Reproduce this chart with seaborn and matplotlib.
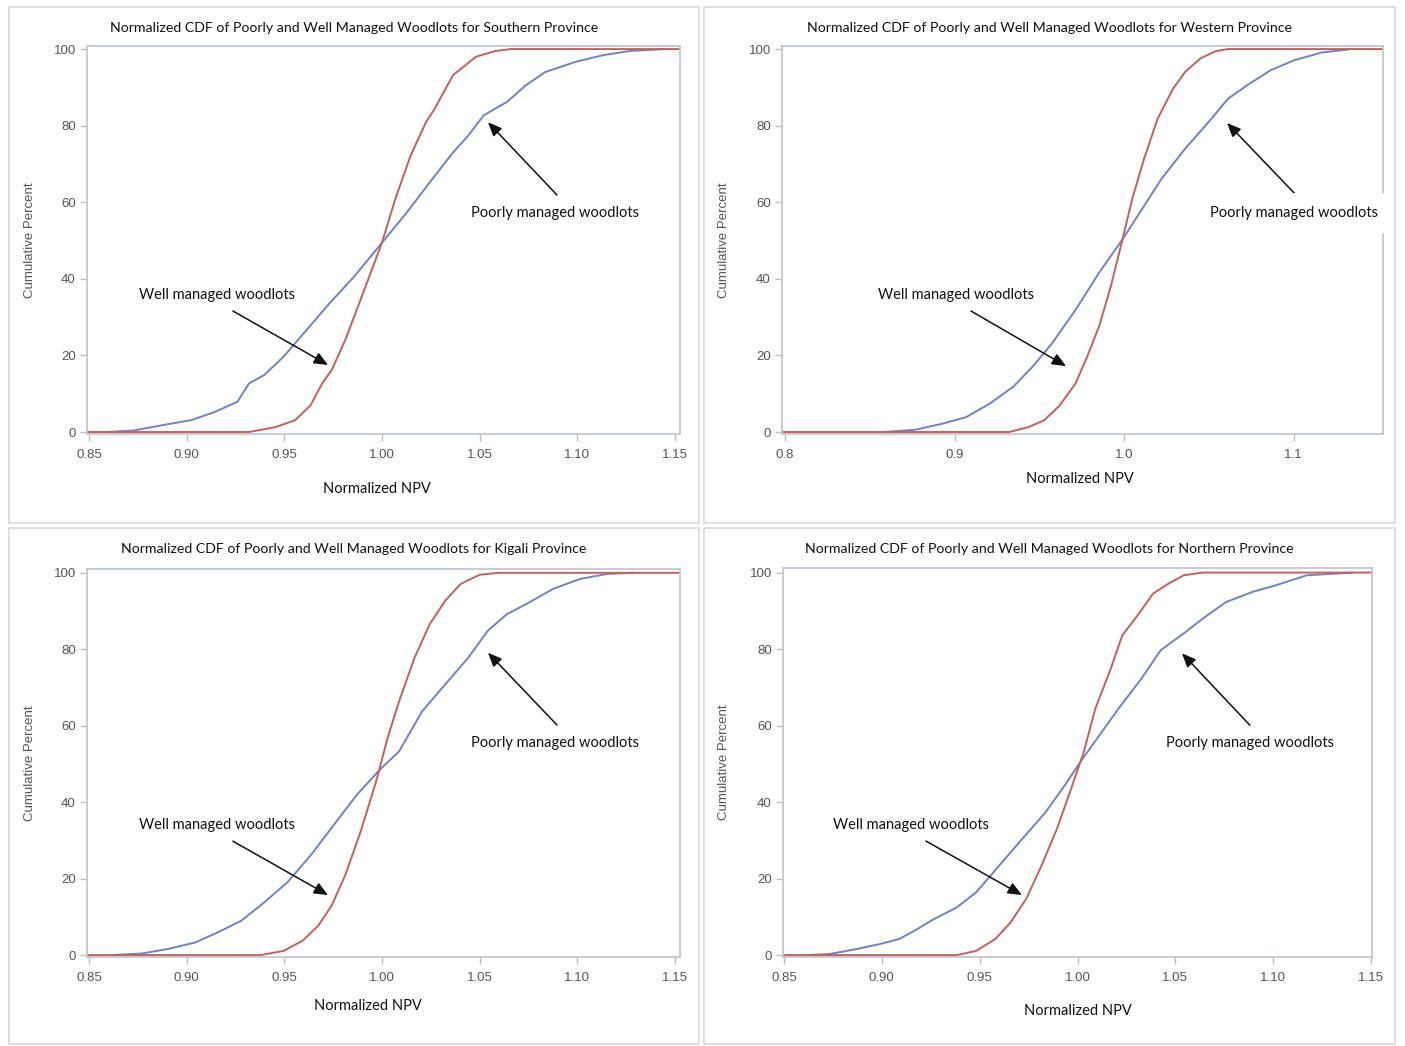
import pandas as pd
import matplotlib.pyplot as plt
import seaborn as sns
from matplotlib.patches import Rectangle

# ============================================
# DATA
# ============================================

# Southern Province
south_well_x = [0.849, 0.932, 0.9457, 0.9556, 0.9635, 0.9694, 0.9743, 0.9812, 0.9891, 1.0,
                1.0068, 1.0147, 1.0226, 1.0265, 1.0364, 1.0482, 1.058, 1.066, 1.1526]
south_well_pct = [0, 0, 1.3, 3.1, 7, 12.7, 16.2, 24, 34.6, 49.4,
                  60.8, 72.2, 81, 84, 93.2, 98, 99.5, 100, 100]
south_poor_x = [0.859, 0.873, 0.8866, 0.9024, 0.9142, 0.926, 0.932, 0.9398, 0.9497, 0.9615,
                0.9733, 0.9851, 1.0, 1.0127, 1.0245, 1.0364, 1.0442, 1.0521, 1.064, 1.0738,
                1.0836, 1.0994, 1.1132, 1.127, 1.1447]
south_poor_pct = [0, 0.4, 1.7, 3.1, 5.2, 7.9, 12.7, 14.9, 19.7, 26.7,
                  33.7, 40.2, 49.4, 57.3, 65.2, 73, 77.4, 82.7, 86.2, 90.6,
                  94, 96.7, 98.4, 99.5, 100]

# Western Province
west_well_x = [0.7982, 0.9323, 0.9438, 0.953, 0.9622, 0.9714, 0.9783, 0.9853, 0.9922, 0.9991,
               1.0048, 1.0118, 1.0198, 1.029, 1.036, 1.0452, 1.0544, 1.0613, 1.1528]
west_well_pct = [0, 0, 1.3, 3.1, 7, 12.7, 19.7, 27.6, 38, 50.3,
                 60.8, 71.3, 81.8, 89.7, 94, 97.6, 99.5, 100, 100]
west_poor_x = [0.8585, 0.877, 0.8931, 0.9069, 0.9207, 0.9346, 0.9461, 0.9576, 0.9714, 0.9853,
               0.9991, 1.0106, 1.0221, 1.0359, 1.0498, 1.0613, 1.0728, 1.0866, 1.1005, 1.1166,
               1.1327]
west_poor_pct = [0, 0.6, 2.2, 3.9, 7.4, 11.8, 17.1, 23.2, 31.9, 41.6,
                 50.3, 58.2, 66.1, 73.9, 80.9, 87, 90.6, 94.5, 97.1, 99.1,
                 99.9]

# Kigali Province
kigali_well_x = [0.849, 0.9379, 0.9497, 0.9595, 0.9674, 0.9743, 0.9812, 0.9891, 0.997, 1.0029,
                 1.0088, 1.0167, 1.0245, 1.0324, 1.0403, 1.0501, 1.06, 1.1526]
kigali_well_pct = [0, 0, 1.1, 3.8, 7.7, 13, 20.9, 32.3, 45.4, 56.8,
                   66.4, 77.8, 86.6, 92.7, 97.1, 99.5, 100, 100]
kigali_poor_x = [0.861, 0.8768, 0.8906, 0.9044, 0.9162, 0.928, 0.9398, 0.9517, 0.9635, 0.9753,
                 0.9871, 0.9989, 1.0088, 1.0206, 1.0324, 1.0442, 1.0541, 1.064, 1.0738, 1.0876,
                 1.1014, 1.1152, 1.129]
kigali_poor_pct = [0, 0.4, 1.6, 3.3, 6, 9, 13.8, 19.1, 26.1, 34,
                   41.9, 48.5, 53.3, 63.8, 70.8, 77.8, 84.8, 89.2, 91.8, 95.8,
                   98.4, 99.7, 100]

# Northern Province
north_well_x = [0.8495, 0.9384, 0.9482, 0.958, 0.9659, 0.9738, 0.9816, 0.9895, 0.9973, 1.0032,
                1.0091, 1.017, 1.0229, 1.0307, 1.0386, 1.0465, 1.0543, 1.0641, 1.1505]
north_well_pct = [0, 0, 1.1, 4.2, 8.6, 14.7, 23.4, 33, 44.3, 53.1,
                  64.4, 74.9, 83.6, 88.8, 94.5, 97.1, 99.3, 100, 100]
north_poor_x = [0.8618, 0.8736, 0.8873, 0.8991, 0.9089, 0.9168, 0.9266, 0.9384, 0.9482, 0.96,
                0.9718, 0.9836, 0.9934, 1.0013, 1.0111, 1.0209, 1.0327, 1.0425, 1.0543, 1.0641,
                1.0759, 1.0897, 1.1015, 1.1172, 1.1408]
north_poor_pct = [0, 0.3, 1.6, 2.9, 4.2, 6.4, 9.4, 12.5, 16.4, 23.4,
                  30.4, 37.3, 44.3, 50.4, 57.4, 64.4, 72.3, 79.7, 84.1, 88,
                  92.3, 95, 96.7, 99.3, 100]

provinces = ["Southern", "Western", "Kigali", "Northern"]
ticks_fine = [0.85, 0.90, 0.95, 1.00, 1.05, 1.10, 1.15]
ticks_fine_labels = ["0.85", "0.90", "0.95", "1.00", "1.05", "1.10", "1.15"]
ticks_west = [0.8, 0.9, 1.0, 1.1]
ticks_west_labels = ["0.8", "0.9", "1.0", "1.1"]
y_ticks = [0, 20, 40, 60, 80, 100]

WELL_COLOR = "#c4605d"
POOR_COLOR = "#7282c2"

# ============================================
# LAYOUT (pixels of the 1405x1046 picture)
# ============================================

W, H = 1405, 1046

panels = [
    dict(name="Southern", box=(9, 7, 699, 523), axes=(87, 46, 680, 434),
         xlim=(0.849, 1.1526), ylim=(-0.52, 100.8),
         well=(south_well_x, south_well_pct), poor=(south_poor_x, south_poor_pct),
         ticks=(ticks_fine, ticks_fine_labels), xlab=(0.489, -0.124), ylab=-0.086,
         well_txt=(0.9155, 35.8), well_arrow=((0.9237, 31.6), (0.9724, 17.5)),
         poor_txt=(1.0886, 57.2), poor_arrow=((1.0896, 61.9), (1.0543, 80.9))),
    dict(name="Western", box=(704, 7, 1395, 523), axes=(782, 46, 1383, 434),
         xlim=(0.7982, 1.1528), ylim=(-0.52, 100.8),
         well=(west_well_x, west_well_pct), poor=(west_poor_x, west_poor_pct),
         ticks=(ticks_west, ticks_west_labels), xlab=(0.496, -0.098), ylab=-0.086,
         well_txt=(0.9009, 35.8), well_arrow=((0.9097, 31.6), (0.9658, 17.2)),
         poor_txt=(1.1003, 57.2), poor_arrow=((1.1015, 61.9), (1.0608, 80.7))),
    dict(name="Kigali", box=(9, 528, 699, 1044), axes=(87, 569, 680, 957),
         xlim=(0.849, 1.1526), ylim=(-0.5, 101),
         well=(kigali_well_x, kigali_well_pct), poor=(kigali_poor_x, kigali_poor_pct),
         ticks=(ticks_fine, ticks_fine_labels), xlab=(0.474, -0.108), ylab=-0.086,
         well_txt=(0.9155, 34.0), well_arrow=((0.9237, 29.8), (0.9724, 15.7)),
         poor_txt=(1.0886, 55.5), poor_arrow=((1.0896, 60.2), (1.0543, 79.1))),
    dict(name="Northern", box=(704, 528, 1395, 1044), axes=(783, 568, 1372, 957),
         xlim=(0.8495, 1.1505), ylim=(-0.5, 101.2),
         well=(north_well_x, north_well_pct), poor=(north_poor_x, north_poor_pct),
         ticks=(ticks_fine, ticks_fine_labels), xlab=(0.5, -0.121), ylab=-0.09,
         well_txt=(0.9149, 33.9), well_arrow=((0.9226, 29.8), (0.9716, 15.7)),
         poor_txt=(1.0881, 55.4), poor_arrow=((1.0881, 60.1), (1.0534, 78.9))),
]

sns.set_theme(style="white")
plt.rcParams['font.family'] = ['Liberation Sans', 'DejaVu Sans']
TEXT_FONT = ['Lato', 'DejaVu Sans']

fig = plt.figure(figsize=(W / 100, H / 100), dpi=100)
fig.patch.set_facecolor("white")

for p in panels:
    # panel border
    x0, y0, x1, y1 = p["box"]
    fig.patches.append(Rectangle((x0 / W, 1 - y1 / H), (x1 - x0) / W, (y1 - y0) / H,
                                 transform=fig.transFigure, fill=False,
                                 ec="#d9d9d9", lw=1.2))

    l, t, r, b = p["axes"]
    ax = fig.add_axes([l / W, 1 - b / H, (r - l) / W, (b - t) / H])

    df_poor = pd.DataFrame({"npv": p["poor"][0], "pct": p["poor"][1]})
    df_well = pd.DataFrame({"npv": p["well"][0], "pct": p["well"][1]})

    sns.lineplot(data=df_poor, x="npv", y="pct", ax=ax, color=POOR_COLOR,
                 lw=1.4, estimator=None, sort=False)
    sns.lineplot(data=df_well, x="npv", y="pct", ax=ax, color=WELL_COLOR,
                 lw=1.4, estimator=None, sort=False)

    ax.set_xlim(*p["xlim"])
    ax.set_ylim(*p["ylim"])
    ax.set_xticks(p["ticks"][0])
    ax.set_xticklabels(p["ticks"][1])
    ax.set_yticks(y_ticks)
    ax.set_yticklabels([str(v) for v in y_ticks])
    ax.tick_params(axis="both", which="major", direction="out", length=5, width=1,
                   color="#b9bec7", labelcolor="#555555", labelsize=9.5, pad=3,
                   bottom=True, left=True)
    ax.tick_params(axis="x", pad=6)

    for s in ax.spines.values():
        s.set_color("#c3c8d0")
        s.set_linewidth(1.3)

    ax.set_xlabel("Normalized NPV", fontsize=10.5, color="#111111", family=TEXT_FONT)
    ax.xaxis.set_label_coords(*p["xlab"])
    ax.set_ylabel("Cumulative Percent", fontsize=9.5, color="#555555")
    ax.yaxis.set_label_coords(p["ylab"], 0.5)

    # title centred on the panel box
    fig.text(((x0 + x1) / 2) / W, 1 - (y0 + 21) / H,
             "Normalized CDF of Poorly and Well Managed Woodlots for %s Province" % p["name"],
             ha="center", va="center", fontsize=10.2, color="#111111", family=TEXT_FONT)

    # annotations
    ax.text(*p["well_txt"], "Well managed woodlots", ha="center", va="center",
            fontsize=10.5, color="#111111", family=TEXT_FONT)
    bbox = None
    if p["name"] == "Western":
        bbox = dict(fc="white", ec="none", pad=9)
    ax.text(*p["poor_txt"], "Poorly managed woodlots", ha="center", va="center",
            fontsize=10.5, color="#111111", family=TEXT_FONT, bbox=bbox,
            zorder=6, clip_on=False)
    for tail, head in [p["well_arrow"], p["poor_arrow"]]:
        ax.annotate("", xy=head, xytext=tail,
                    arrowprops=dict(arrowstyle="-|>,head_length=0.7,head_width=0.3",
                                    color="#111111", lw=1.1, shrinkA=0, shrinkB=0))

fig.savefig("out.png", dpi=100, facecolor="white")
